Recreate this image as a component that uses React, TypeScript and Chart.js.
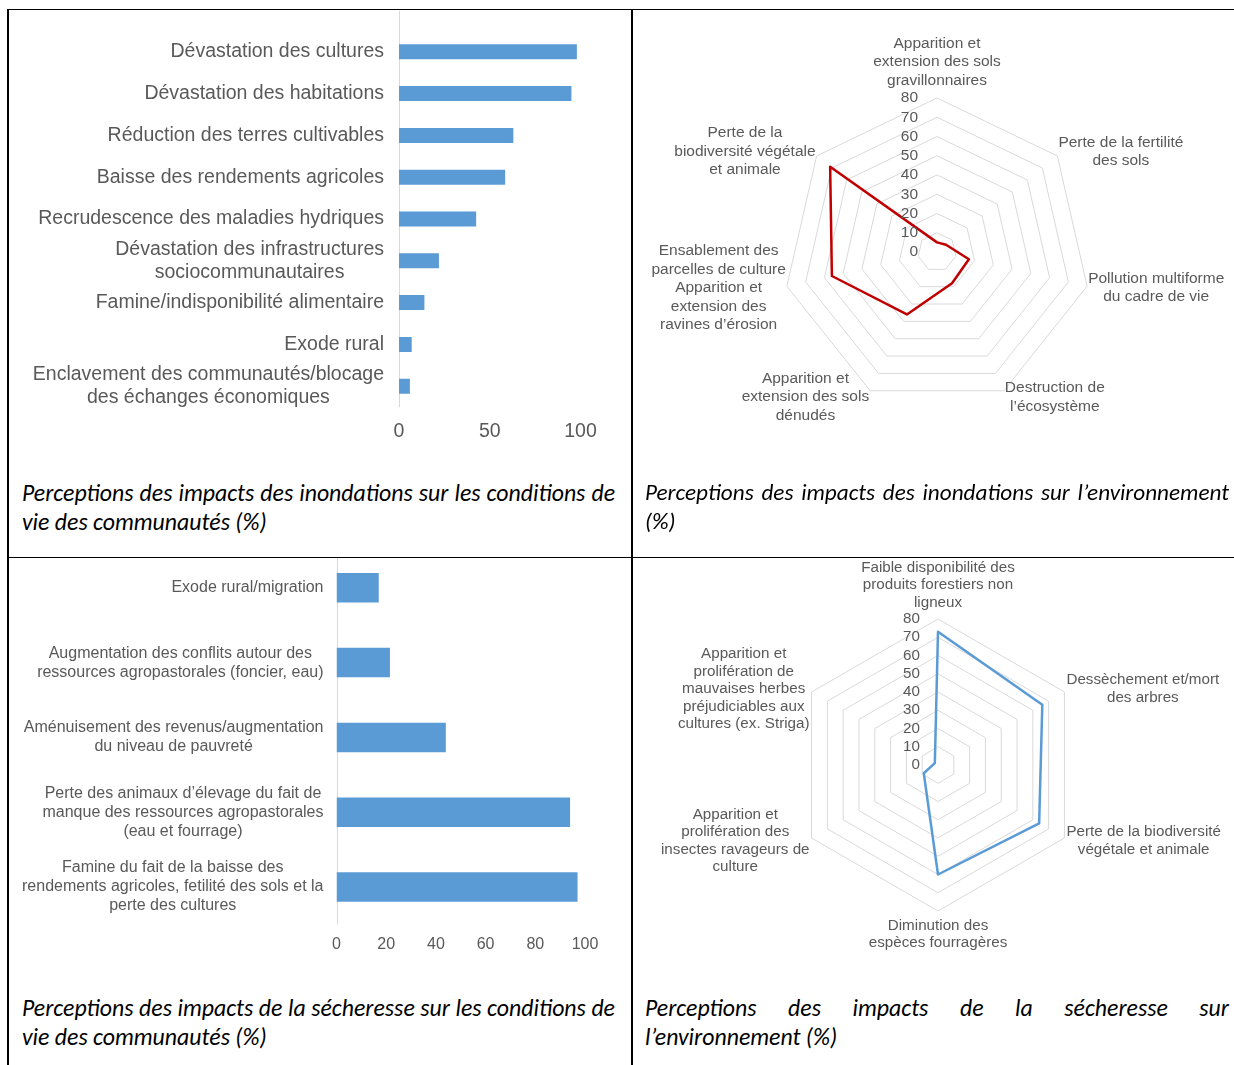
import React, { useEffect, useRef } from 'react';
import { Chart, registerables } from 'chart.js';

Chart.register(...registerables);

const GRAY = '#595959';
const GRID = '#D9D9D9';
const BAR_BLUE = '#5B9BD5';
const FONT = '"Liberation Sans", Arial, sans-serif';

// ---- Chart 1: floods / living conditions ----
const floodLifeCategories: (string | string[])[] = [
  'Dévastation des cultures',
  'Dévastation des habitations',
  'Réduction des terres cultivables',
  'Baisse des rendements agricoles',
  'Recrudescence des maladies hydriques',
  ['Dévastation des infrastructures', 'sociocommunautaires'],
  'Famine/indisponibilité alimentaire',
  'Exode rural',
  ['Enclavement des communautés/blocage', 'des échanges économiques'],
];
const floodLifeValues = [98, 95, 63, 58.5, 42.5, 22, 14, 7, 6];
const floodLifeAxis = { min: 0, max: 100, step: 50 };

// ---- Chart 2: floods / environment ----
const floodEnvLabels: string[][] = [
  ['Apparition et', 'extension des sols', 'gravillonnaires'],
  ['Perte de la fertilité', 'des sols'],
  ['Pollution multiforme', 'du cadre de vie'],
  ['Destruction de', 'l’écosystème'],
  ['Apparition et', 'extension des sols', 'dénudés'],
  ['Ensablement des', 'parcelles de culture', 'Apparition et', 'extension des', 'ravines d’érosion'],
  ['Perte de la', 'biodiversité végétale', 'et animale'],
];
const floodEnvValues = [5, 6, 17, 18, 36, 56, 71];
const radarAxis = { min: 0, max: 80, step: 10 };

// ---- Chart 3: drought / living conditions ----
const droughtLifeCategories: (string | string[])[] = [
  'Exode rural/migration',
  ['Augmentation des conflits autour des', 'ressources agropastorales (foncier, eau)'],
  ['Aménuisement des revenus/augmentation', 'du niveau de pauvreté'],
  ['Perte des animaux d’élevage du fait de', 'manque des ressources agropastorales', '(eau et fourrage)'],
  ['Famine du fait de la baisse des', 'rendements agricoles, fetilité des sols et la', 'perte des cultures'],
];
const droughtLifeValues = [17, 21.5, 44, 94, 97];
const droughtLifeAxis = { min: 0, max: 100, step: 20 };

// ---- Chart 4: drought / environment ----
const droughtEnvLabels: string[][] = [
  ['Faible disponibilité des', 'produits forestiers non', 'ligneux'],
  ['Dessèchement et/mort', 'des arbres'],
  ['Perte de la biodiversité', 'végétale et animale'],
  ['Diminution des', 'espèces fourragères'],
  ['Apparition et', 'prolifération des', 'insectes ravageurs de', 'culture'],
  ['Apparition et', 'prolifération de', 'mauvaises herbes', 'préjudiciables aux', 'cultures (ex. Striga)'],
];
const droughtEnvValues = [73, 66, 64, 60, 9, 2];

const captions = [
  'Perceptions des impacts des inondations sur les conditions de vie des communautés (%)',
  'Perceptions des impacts des inondations sur l’environnement (%)',
  'Perceptions des impacts de la sécheresse sur les conditions de vie des communautés (%)',
  'Perceptions des impacts de la sécheresse sur l’environnement (%)',
];

function drawBlock(ctx: CanvasRenderingContext2D, lines: string[], x: number, top: number, align: 'left' | 'right' | 'center', lh: number) {
  const bw = Math.max(...lines.map((l) => ctx.measureText(l).width));
  const cx = align === 'left' ? x + bw / 2 : align === 'right' ? x - bw / 2 : x;
  ctx.textAlign = 'center';
  ctx.textBaseline = 'middle';
  lines.forEach((l, i) => ctx.fillText(l, cx, top + lh / 2 + i * lh));
}

type BarProps = {
  categories: (string | string[])[];
  values: number[];
  axis: { min: number; max: number; step: number };
  width: number;
  height: number;
  padTop: number;
  padRight: number;
  axisW: number;
  plotH: number;
  fontSize: number;
  lh: number;
  labelPad: number;
  tickPadding: number;
  barPct: number;
  lineFromTop: boolean;
};

function BarChart(p: BarProps) {
  const ref = useRef<HTMLCanvasElement | null>(null);
  useEffect(() => {
    if (!ref.current) return;
    const plugin = {
      id: 'catLabels',
      beforeDatasetsDraw(chart: any) {
        const { ctx, chartArea, scales } = chart;
        const x0 = Math.round(scales.x.getPixelForValue(0)) + 0.5;
        ctx.save();
        ctx.strokeStyle = GRID;
        ctx.lineWidth = 1;
        ctx.beginPath();
        ctx.moveTo(x0, p.lineFromTop ? 0 : chartArea.top);
        ctx.lineTo(x0, chartArea.bottom);
        ctx.stroke();
        ctx.restore();
      },
      afterDraw(chart: any) {
        const { ctx, chartArea, scales } = chart;
        ctx.save();
        ctx.fillStyle = GRAY;
        ctx.font = `${p.fontSize}px ${FONT}`;
        p.categories.forEach((lab, i) => {
          const lines = Array.isArray(lab) ? lab : [lab];
          const yc = scales.y.getPixelForValue(i);
          const h = lines.length * p.lh;
          drawBlock(ctx, lines, chartArea.left - p.labelPad, yc - h / 2, 'right', p.lh);
        });
        ctx.restore();
      },
    };
    const chart = new Chart(ref.current, {
      type: 'bar',
      data: {
        labels: p.categories as any,
        datasets: [
          {
            data: p.values,
            backgroundColor: BAR_BLUE,
            borderWidth: 0,
            barPercentage: p.barPct,
            categoryPercentage: 1,
          },
        ],
      },
      options: {
        indexAxis: 'y',
        responsive: false,
        animation: false,
        events: [],
        layout: { padding: { top: p.padTop, right: p.padRight, left: 0, bottom: 0 } },
        plugins: { legend: { display: false }, tooltip: { enabled: false } },
        scales: {
          x: {
            min: p.axis.min,
            max: p.axis.max,
            ticks: {
              stepSize: p.axis.step,
              color: GRAY,
              font: { family: FONT, size: p.fontSize },
              padding: p.tickPadding,
              maxRotation: 0,
              autoSkip: false,
            },
            grid: { display: false, drawTicks: false },
            border: { display: false },
            afterFit: (s: any) => {
              s.height = p.height - p.padTop - p.plotH;
            },
          },
          y: {
            ticks: { display: false },
            grid: { display: false, drawTicks: false },
            border: { display: false },
            afterFit: (s: any) => {
              s.width = p.axisW;
            },
          },
        },
      } as any,
      plugins: [plugin],
    });
    return () => chart.destroy();
  }, []);
  return <canvas ref={ref} width={p.width} height={p.height} style={{ width: p.width, height: p.height, display: 'block' }} />;
}

type RadarProps = {
  labels: string[][];
  values: number[];
  color: string;
  width: number;
  height: number;
  cx: number;
  cy: number;
  R: number;
  fontSize: number;
  lh: number;
  tickOffset: number;
  gapTop: number;
  gapBottom: number;
  gapH: number;
  k: number;
};

function RadarChart(p: RadarProps) {
  const ref = useRef<HTMLCanvasElement | null>(null);
  useEffect(() => {
    if (!ref.current) return;
    const plugin = {
      id: 'radarLabels',
      afterDraw(chart: any) {
        const s = chart.scales.r;
        const ctx = chart.ctx as CanvasRenderingContext2D;
        ctx.save();
        ctx.fillStyle = GRAY;
        ctx.font = `${p.fontSize}px ${FONT}`;
        ctx.textAlign = 'right';
        ctx.textBaseline = 'middle';
        s.ticks.forEach((t: any) => {
          const d = s.getDistanceFromCenterForValue(t.value);
          ctx.fillText(String(t.value), s.xCenter - p.tickOffset, s.yCenter - d);
        });
        p.labels.forEach((lines, i) => {
          const pt = s.getPointPosition(i, s.drawingArea);
          const c = Math.cos(pt.angle);
          const sn = Math.sin(pt.angle);
          const h = lines.length * p.lh;
          if (Math.abs(c) < 0.05) {
            const top = sn < 0 ? pt.y - p.gapTop - h : pt.y + p.gapBottom;
            drawBlock(ctx, lines, pt.x, top, 'center', p.lh);
          } else {
            const yc = pt.y + p.k * sn;
            drawBlock(ctx, lines, c > 0 ? pt.x + p.gapH : pt.x - p.gapH, yc - h / 2, c > 0 ? 'left' : 'right', p.lh);
          }
        });
        ctx.restore();
      },
    };
    const chart = new Chart(ref.current, {
      type: 'radar',
      data: {
        labels: p.labels as any,
        datasets: [
          {
            data: p.values,
            borderColor: p.color,
            borderWidth: 2.5,
            backgroundColor: 'transparent',
            fill: false,
            pointRadius: 0,
            pointHoverRadius: 0,
            borderJoinStyle: 'round',
            tension: 0,
          },
        ],
      },
      options: {
        responsive: false,
        animation: false,
        events: [],
        layout: { padding: 0 },
        plugins: { legend: { display: false }, tooltip: { enabled: false } },
        scales: {
          r: {
            min: radarAxis.min,
            max: radarAxis.max,
            ticks: { stepSize: radarAxis.step, display: false },
            grid: { color: GRID, lineWidth: 1 },
            angleLines: { display: false },
            pointLabels: { display: false },
            afterFit: (s: any) => {
              s.xCenter = p.cx;
              s.yCenter = p.cy;
              s.drawingArea = p.R;
            },
          },
        },
      } as any,
      plugins: [plugin],
    });
    return () => chart.destroy();
  }, []);
  return <canvas ref={ref} width={p.width} height={p.height} style={{ width: p.width, height: p.height, display: 'block' }} />;
}

const line = (left: number, top: number, width: number, height: number) => (
  <div style={{ position: 'absolute', left, top, width, height, background: '#000' }} />
);

const captionStyle = (left: number, top: number, width: number, size: number): React.CSSProperties => ({
  position: 'absolute',
  left,
  top,
  width,
  fontFamily: 'Carlito, Lato, sans-serif',
  fontStyle: 'italic',
  fontSize: size,
  lineHeight: '29px',
  textAlign: 'justify',
  color: '#000',
});

export default function App() {
  return (
    <div style={{ position: 'absolute', left: 0, top: 0, width: 1234, height: 1065, background: '#fff', overflow: 'hidden' }}>
      {/* cell 1 */}
      <div style={{ position: 'absolute', left: 9, top: 10, width: 621, height: 546, overflow: 'hidden' }}>
        <div style={{ position: 'absolute', left: 1, top: 1 }}>
          <BarChart
            categories={floodLifeCategories}
            values={floodLifeValues}
            axis={floodLifeAxis}
            width={615}
            height={440}
            padTop={19.9}
            padRight={44.5}
            axisW={389}
            plotH={376.2}
            fontSize={19.5}
            lh={23}
            labelPad={15}
            tickPadding={13}
            barPct={0.359}
            lineFromTop={true}
          />
        </div>
      </div>
      {/* cell 2 */}
      <div style={{ position: 'absolute', left: 632, top: 11, width: 602, height: 545, overflow: 'hidden' }}>
        <RadarChart
          labels={floodEnvLabels}
          values={floodEnvValues}
          color="#C00000"
          width={602}
          height={545}
          cx={305}
          cy={241}
          R={154}
          fontSize={15.5}
          lh={18.5}
          tickOffset={19}
          gapTop={8.5}
          gapBottom={6}
          gapH={1}
          k={7}
        />
      </div>
      {/* cell 3 */}
      <div style={{ position: 'absolute', left: 9, top: 558, width: 621, height: 507, overflow: 'hidden' }}>
        <div style={{ position: 'absolute', left: 1, top: -18 }}>
          <BarChart
            categories={droughtLifeCategories}
            values={droughtLifeValues}
            axis={droughtLifeAxis}
            width={615}
            height={420}
            padTop={10.4}
            padRight={40}
            axisW={326.5}
            plotH={374}
            fontSize={16}
            lh={19}
            labelPad={13}
            tickPadding={11}
            barPct={0.394}
            lineFromTop={false}
          />
        </div>
      </div>
      {/* cell 4 */}
      <div style={{ position: 'absolute', left: 632, top: 558, width: 602, height: 420, overflow: 'hidden' }}>
        <RadarChart
          labels={droughtEnvLabels}
          values={droughtEnvValues}
          color={BAR_BLUE}
          width={602}
          height={420}
          cx={306}
          cy={207}
          R={146}
          fontSize={15.2}
          lh={17.5}
          tickOffset={18}
          gapTop={7.5}
          gapBottom={6}
          gapH={2}
          k={6}
        />
      </div>

      {/* captions */}
      <div style={captionStyle(22, 477.5, 593, 23.8)}>{captions[0]}</div>
      <div style={captionStyle(645, 477.5, 584, 23.2)}>{captions[1]}</div>
      <div style={captionStyle(22, 992.5, 593, 23.8)}>{captions[2]}</div>
      <div style={captionStyle(645, 992.5, 584, 23.8)}>{captions[3]}</div>

      {/* table borders */}
      {line(7, 9, 1227, 1)}
      {line(7, 9, 1.5, 1056)}
      {line(630.5, 9, 2, 1056)}
      {line(7, 556.5, 1227, 1.5)}
    </div>
  );
}
